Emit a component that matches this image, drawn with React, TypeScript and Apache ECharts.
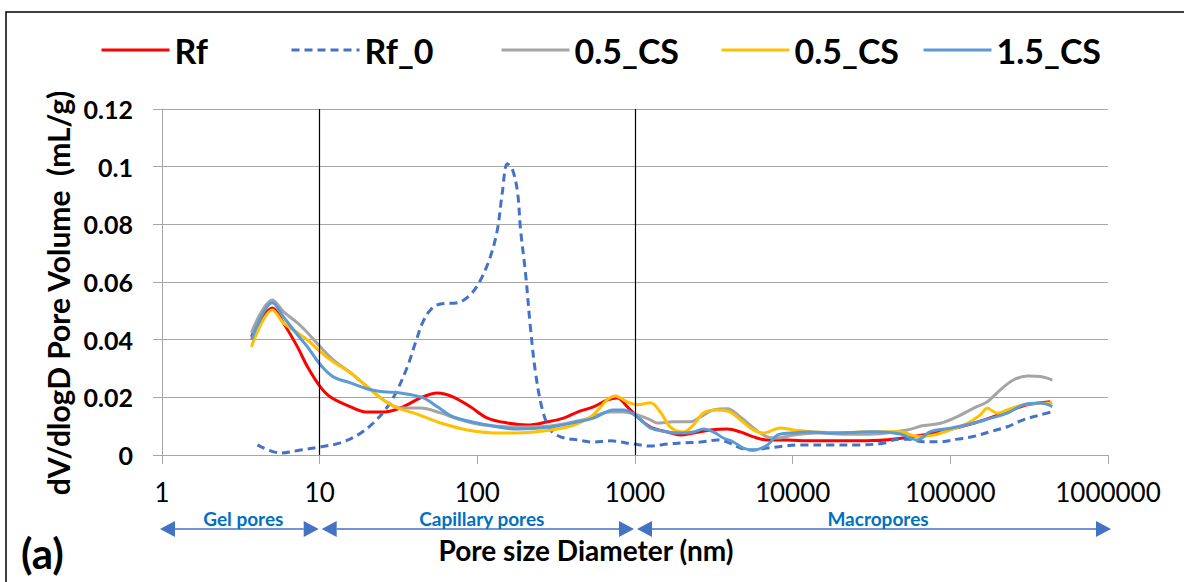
import React, { useEffect, useRef } from "react";
import * as echarts from "echarts";

type Pt = [number, number];

const seriesNames = ["Rf", "Rf_0", "0.5_CS", "0.5_CS (2)", "1.5_CS"];
const seriesColors = ["#FF0000", "#4472C4", "#A5A5A5", "#FFC000", "#5B9BD5"];

const rf: Pt[] = [
  [3.69, 0.041], [5.02, 0.051], [5.89, 0.0458], [7.23, 0.0375], [8.37, 0.0306],
  [10.1, 0.0236], [11.7, 0.0201], [15.7, 0.0167], [20.1, 0.0149], [25.4, 0.0149],
  [32.5, 0.0163], [43.6, 0.0198], [55.8, 0.0215], [70.5, 0.0201], [90.4, 0.0167],
  [116, 0.0128], [155, 0.0111], [208, 0.0104], [278, 0.0115], [352, 0.0128],
  [431, 0.0149], [545, 0.0167], [668, 0.0191], [773, 0.0198], [895, 0.0167],
  [1036, 0.0132], [1252, 0.0097], [1605, 0.008], [1941, 0.0069], [2346, 0.0076],
  [3007, 0.0087], [3854, 0.009], [4660, 0.008], [5634, 0.0063], [6912, 0.0052],
  [9257, 0.0052], [12395, 0.0049], [18120, 0.0049], [32490, 0.005], [53370, 0.0061],
  [86430, 0.0081], [139900, 0.011], [229800, 0.015], [307800, 0.0174], [430700, 0.0185],
];

const rf0: Pt[] = [
  [4.03, 0.0035], [5.64, 0.0007], [7.55, 0.0017], [10.1, 0.0028], [13.5, 0.0042],
  [17.4, 0.0069], [21.9, 0.0111], [26.9, 0.0167], [31.1, 0.0226], [36.0, 0.0306],
  [40.5, 0.0389], [44.9, 0.0458], [50.4, 0.0503], [58.3, 0.0524], [74.8, 0.0528],
  [90.4, 0.0556], [105, 0.0608], [121, 0.0688], [134, 0.0781], [144, 0.091],
  [155, 0.101], [167, 0.099], [180, 0.091], [188, 0.0781], [202, 0.0632],
  [217, 0.0444], [234, 0.0285], [259, 0.0156], [291, 0.0087], [337, 0.0063],
  [431, 0.0052], [545, 0.0045], [698, 0.0049], [977, 0.0038], [1252, 0.0031],
  [1605, 0.0038], [2027, 0.0042], [2598, 0.0045], [3331, 0.0052], [3854, 0.0045],
  [4660, 0.0024], [5391, 0.0017], [6912, 0.0024], [8730, 0.0031], [11190, 0.0035],
  [18120, 0.0035], [26880, 0.0035], [37600, 0.0041], [43520, 0.0052], [53370, 0.0055],
  [67440, 0.0046], [86430, 0.0046], [110800, 0.0055], [139900, 0.0064], [179300, 0.0081],
  [229800, 0.0098], [290400, 0.0122], [372200, 0.0139], [443600, 0.015],
];

const cs05a: Pt[] = [
  [3.69, 0.0424], [5.02, 0.0538], [5.89, 0.0497], [7.23, 0.0458], [8.37, 0.0424],
  [10.1, 0.0375], [12.2, 0.033], [15.7, 0.0285], [20.1, 0.0236], [25.4, 0.0191],
  [32.5, 0.0163], [43.6, 0.0163], [58.3, 0.0146], [78.1, 0.0122], [109, 0.0104],
  [180, 0.0097], [291, 0.0101], [471, 0.0122], [698, 0.0149], [844, 0.0149],
  [1036, 0.0139], [1252, 0.0122], [1387, 0.0111], [1752, 0.0115], [2245, 0.0115],
  [2598, 0.0132], [3142, 0.0156], [3854, 0.016], [4660, 0.0132], [5634, 0.0094],
  [6912, 0.0063], [8000, 0.0059], [10100, 0.0069], [14340, 0.0076], [23220, 0.0072],
  [32490, 0.0073], [53370, 0.0087], [67440, 0.0102], [86430, 0.011], [110800, 0.0133],
  [139900, 0.0162], [171700, 0.0185], [207600, 0.0226], [250800, 0.026], [307800, 0.0274],
  [372200, 0.0272], [443600, 0.026],
];

const cs05b: Pt[] = [
  [3.69, 0.0375], [5.02, 0.0503], [5.89, 0.0458], [7.23, 0.0424], [8.37, 0.0399],
  [10.1, 0.0358], [12.2, 0.0323], [15.7, 0.0285], [20.1, 0.0236], [24.3, 0.0198],
  [31.1, 0.0163], [39.3, 0.0146], [48.3, 0.0128], [58.3, 0.0111], [86.5, 0.0087],
  [140, 0.0076], [227, 0.008], [373, 0.0097], [522, 0.0132], [751, 0.0205],
  [895, 0.0184], [1036, 0.0174], [1252, 0.0181], [1449, 0.0149], [1677, 0.0097],
  [2027, 0.008], [2346, 0.0104], [2715, 0.0146], [3331, 0.0156], [4026, 0.0149],
  [4660, 0.0122], [5634, 0.0087], [6521, 0.0076], [8356, 0.0094], [10100, 0.0087],
  [13530, 0.008], [23220, 0.0078], [32490, 0.0081], [48190, 0.0081], [61760, 0.0064],
  [78020, 0.0069], [100000, 0.0087], [128200, 0.011], [155000, 0.0139], [171700, 0.0162],
  [198700, 0.0145], [229800, 0.0156], [290400, 0.0174], [443600, 0.018],
];

const cs15: Pt[] = [
  [3.69, 0.0399], [5.02, 0.0528], [5.89, 0.0479], [7.23, 0.0417], [8.37, 0.0375],
  [10.1, 0.0313], [12.2, 0.0271], [15.7, 0.025], [20.1, 0.0229], [25.4, 0.0219],
  [32.5, 0.0215], [45.5, 0.0198], [55.8, 0.0167], [70.5, 0.0132], [116, 0.0104],
  [180, 0.009], [291, 0.0097], [431, 0.0115], [545, 0.0128], [730, 0.0156],
  [844, 0.0156], [1036, 0.0132], [1252, 0.0094], [1605, 0.008], [1941, 0.0076],
  [2346, 0.008], [2715, 0.009], [3142, 0.008], [3636, 0.0059], [4207, 0.0045],
  [4870, 0.0024], [5634, 0.0017], [6912, 0.0035], [8000, 0.0069], [9670, 0.0076],
  [12950, 0.008], [18120, 0.0076], [23220, 0.0078], [32490, 0.0081], [48190, 0.0073],
  [61760, 0.0052], [74680, 0.0081], [100000, 0.0093], [139900, 0.011], [179300, 0.0127],
  [229800, 0.0145], [290400, 0.0174], [372200, 0.018], [443600, 0.0168],
];

const seriesData = [rf, rf0, cs05a, cs05b, cs15];

const poreRegions = [
  { label: "Gel pores", from: 1, to: 10 },
  { label: "Capillary pores", from: 10, to: 1000 },
  { label: "Macropores", from: 1000, to: 1000000 },
];
const boundaryLines = [10, 1000];

const xTitle = "Pore size Diameter (nm)";
const yTitle = "dV/dlogD Pore Volume  (mL/g)";
const panelLabel = "(a)";

const FONT = "Lato, 'Open Sans', sans-serif";
const legendLefts = [100, 290, 500, 720, 922];

export default function App() {
  const ref = useRef<HTMLDivElement>(null);
  useEffect(() => {
    if (!ref.current) return;
    const chart = echarts.init(ref.current, undefined, { renderer: "svg" });
    const option: any = {
      animation: false,
      backgroundColor: "#ffffff",
      grid: { left: 162, right: 76, top: 109, bottom: 127, containLabel: false },
      legend: seriesNames.map((n, i) => ({
        left: legendLefts[i],
        top: 32,
        padding: 0,
        itemWidth: 68,
        itemHeight: 16,
        data: [n],
        selectedMode: false,
        formatter: (s: string) => s.replace(" (2)", ""),
        itemStyle: { opacity: 0 },
        lineStyle: { width: 3, opacity: 1 },
        textStyle: { fontFamily: FONT, fontWeight: "bold", fontSize: 34, color: "#000", lineHeight: 36 },
      })),
      xAxis: {
        type: "log",
        logBase: 10,
        min: 1,
        max: 1000000,
        axisLine: { show: true, lineStyle: { color: "#A6A6A6", width: 1 } },
        axisTick: { show: true, length: 9, lineStyle: { color: "#A6A6A6", width: 1 } },
        splitLine: { show: false },
        minorTick: { show: false },
        axisLabel: {
          margin: 24,
          fontFamily: FONT,
          fontSize: 26,
          color: "#000",
          formatter: (v: number) => String(Math.round(v)),
        },
      },
      yAxis: {
        type: "value",
        min: 0,
        max: 0.12,
        interval: 0.02,
        name: yTitle,
        nameLocation: "middle",
        nameGap: 86,
        nameRotate: 90,
        nameTextStyle: {
          fontFamily: FONT,
          fontWeight: "bold",
          fontSize: 30,
          color: "#000",
          padding: [0, 22, 0, 0],
        },
        axisLine: { show: true, lineStyle: { color: "#A6A6A6", width: 1 } },
        axisTick: { show: true, length: 9, lineStyle: { color: "#A6A6A6", width: 1 } },
        splitLine: { show: true, lineStyle: { color: "#A6A6A6", width: 1 } },
        axisLabel: {
          margin: 29,
          fontFamily: FONT,
          fontWeight: "bold",
          fontSize: 25,
          color: "#000",
          formatter: (v: number) => String(Number(v.toFixed(2))),
        },
      },
      series: seriesData.map((d, i) => ({
        type: "line",
        name: seriesNames[i],
        data: d,
        smooth: 0.35,
        symbol: "none",
        showSymbol: false,
        clip: true,
        lineStyle: {
          color: seriesColors[i],
          width: 3,
          type: i === 1 ? [8, 5] : "solid",
          cap: "butt",
        },
        itemStyle: { color: seriesColors[i] },
        markLine:
          i === 0
            ? {
                silent: true,
                symbol: ["none", "none"],
                label: { show: false },
                lineStyle: { color: "#000", width: 1.2, type: "solid" },
                data: boundaryLines.map((v) => ({ xAxis: v })),
              }
            : undefined,
      })),
    };
    chart.setOption(option);

    const xp = (v: number) => chart.convertToPixel({ xAxisIndex: 0 }, v) as number;
    const arrowY = 529;
    const head = 15;
    const half = 8;
    const arrowColor = "#4472C4";
    const els: any[] = [];
    poreRegions.forEach((r) => {
      const a = xp(r.from) + (r.from === 1 ? -2 : 2);
      const b = xp(r.to) + (r.to === 1000000 ? 3 : -1);
      els.push({
        type: "line",
        shape: { x1: a + head, y1: arrowY, x2: b - head, y2: arrowY },
        style: { stroke: arrowColor, lineWidth: 1.5 },
      });
      els.push({
        type: "polygon",
        shape: { points: [[a, arrowY], [a + head, arrowY - half], [a + head, arrowY + half]] },
        style: { fill: arrowColor },
      });
      els.push({
        type: "polygon",
        shape: { points: [[b, arrowY], [b - head, arrowY - half], [b - head, arrowY + half]] },
        style: { fill: arrowColor },
      });
      els.push({
        type: "text",
        x: (a + b) / 2 + 4,
        y: arrowY - 11,
        style: {
          text: r.label,
          fill: "#0070C0",
          font: `bold 19px ${FONT}`,
          textAlign: "center",
          textVerticalAlign: "middle",
        },
      });
    });
    els.push({
      type: "text",
      x: 586,
      y: 550,
      style: {
        text: xTitle,
        fill: "#000",
        font: `bold 28px ${FONT}`,
        textAlign: "center",
        textVerticalAlign: "middle",
      },
    });
    els.push({
      type: "text",
      x: 21,
      y: 553,
      style: {
        text: panelLabel,
        fill: "#000",
        font: `bold 42px ${FONT}`,
        textAlign: "left",
        textVerticalAlign: "middle",
      },
    });
    els.push({
      type: "rect",
      shape: { x: 6, y: 12, width: 1300, height: 700 },
      style: { fill: "none", stroke: "#000", lineWidth: 1.5 },
      silent: true,
    });
    chart.setOption({ graphic: { elements: els } });

    return () => chart.dispose();
  }, []);
  return (
    <div
      ref={ref}
      style={{ position: "fixed", left: 0, top: 0, width: 1184, height: 582, background: "#fff" }}
    />
  );
}
